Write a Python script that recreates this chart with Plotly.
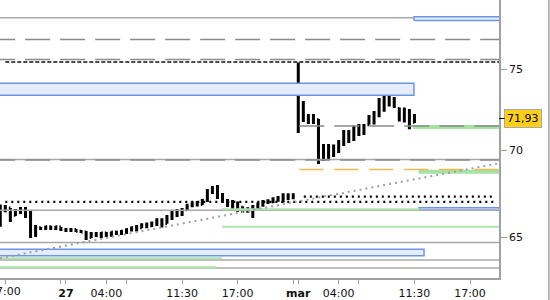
import numpy as np
import plotly.graph_objects as go

# ---- 30-minute bars (trading-slot index; 0 = 17:00 on the 26th) ----
bar_slot = list(range(-1, 82))
opens = [66.20, 66.50, 66.65, 66.25, 66.50, 66.60, 66.20, 65.30, 65.55, 65.50,
         65.60, 65.50, 65.58, 65.45, 65.40, 65.45, 65.35, 65.30, 65.00, 65.20,
         65.10, 65.25, 65.15, 65.30, 65.25, 65.35, 65.45, 65.55, 65.55, 65.70,
         65.65, 65.80, 65.95, 65.78, 66.15, 66.40, 66.35, 66.55, 66.80, 66.90,
         66.85, 67.10, 67.65, 67.60, 67.30, 67.05, 66.85, 66.60, 66.70, 66.50,
         66.60, 66.70, 66.90, 67.00, 67.05, 67.15, 67.25, 67.35, 67.30, 71.20,
         72.60, 71.90, 71.80, 71.85, 69.60, 69.80, 69.70, 70.10, 70.40, 71.00,
         70.80, 71.20, 71.40, 71.55, 72.00, 72.20, 72.90, 73.10, 72.90, 72.55,
         71.95, 72.20, 71.70]
highs = [66.85, 66.83, 66.66, 66.60, 66.71, 66.71, 66.54, 65.70, 65.59, 65.65,
         65.65, 65.65, 65.59, 65.53, 65.53, 65.48, 65.42, 65.36, 65.31, 65.31,
         65.31, 65.31, 65.33, 65.38, 65.42, 65.51, 65.61, 65.70, 65.79, 65.83,
         65.89, 66.07, 66.07, 66.26, 66.48, 66.60, 66.66, 66.89, 67.01, 67.05,
         67.17, 67.74, 67.91, 67.97, 67.51, 67.17, 67.11, 67.02, 66.74, 66.69,
         66.83, 66.97, 67.11, 67.15, 67.26, 67.34, 67.50, 67.50, 67.50, 75.44,
         73.01, 72.21, 72.21, 71.90, 70.39, 70.39, 70.36, 70.63, 71.23, 71.23,
         71.48, 71.60, 71.60, 72.15, 72.39, 73.19, 73.44, 73.50, 73.25, 72.61,
         72.61, 72.51, 72.21]
lows = [65.60, 66.42, 65.87, 66.20, 66.31, 66.09, 64.97, 65.03, 65.42, 65.42,
        65.42, 65.42, 65.36, 65.31, 65.31, 65.31, 65.25, 64.86, 64.97, 65.03,
        64.97, 65.03, 65.05, 65.14, 65.14, 65.20, 65.33, 65.33, 65.51, 65.51,
        65.59, 65.64, 65.56, 65.76, 65.98, 66.15, 66.20, 66.48, 66.69, 66.74,
        66.83, 67.00, 67.45, 67.17, 66.94, 66.71, 66.48, 66.44, 66.39, 66.39,
        66.09, 66.58, 66.73, 66.88, 66.92, 67.01, 66.96, 67.11, 67.15, 71.05,
        71.72, 71.60, 71.60, 69.20, 69.37, 69.49, 69.61, 69.85, 70.27, 70.45,
        70.57, 70.87, 70.93, 71.54, 71.57, 72.00, 72.35, 72.66, 72.58, 71.74,
        71.68, 71.28, 71.65]
closes = [66.50, 66.70, 66.00, 66.50, 66.60, 66.20, 65.30, 65.55, 65.50, 65.60,
          65.50, 65.60, 65.45, 65.40, 65.45, 65.35, 65.30, 65.00, 65.20, 65.10,
          65.25, 65.15, 65.30, 65.25, 65.35, 65.45, 65.55, 65.50, 65.70, 65.65,
          65.80, 65.95, 65.75, 66.15, 66.40, 66.35, 66.55, 66.80, 66.90, 66.85,
          67.10, 67.65, 67.60, 67.30, 67.05, 66.85, 66.60, 66.90, 66.50, 66.60,
          66.70, 66.90, 67.00, 67.05, 67.15, 67.25, 67.35, 67.30, 67.40, 72.60,
          71.90, 71.80, 71.85, 69.60, 69.80, 69.70, 70.10, 70.40, 71.00, 70.80,
          71.20, 71.40, 71.30, 72.00, 72.20, 72.90, 73.10, 72.90, 72.70, 71.95,
          72.20, 71.60, 71.93]

# ---- axis ticks ----
tick_slots = [0, 11, 12, 20, 24, 35, 46, 57, 58, 66, 70, 81, 92]
tick_labels = ["", "", "<b>27</b>", "04:00", "", "11:30", "17:00", "",
               "<b>mar</b>", "04:00", "", "11:30", "17:00"]
edge_label_slot = 0
edge_label = "17:00"
price_ticks = [65, 70, 75]

# ---- horizontal levels: price, start slot, end slot ----
grey_solid_price = [78.37, 69.46, 66.52, 64.73, 63.77, 63.33]
grey_solid_from = [-3, -3, -3, -3, -3, -3]
grey_solid_to = [80.9, 100, 100, 100, 100, 100]

grey_dash_price = [76.93, 75.64, 69.43, 71.47]
grey_dash_from = [-3, -3, -3, 58.2]
grey_dash_to = [100, 100, 100, 100]

black_dash_price = [75.47]
black_dash_from = [0]

orange_dash_price = [68.88]
orange_dash_from = [58.2]

black_dot_price = [67.0, 67.3]
black_dot_from = [0, 59.1]
black_dot_to = [96.9, 96.9]

green_thin_price = [66.58, 65.60, 63.86, 63.38]
green_thin_from = [42.9, 42.9, -3, -3]
green_thin_to = [82.0, 100, 42.9, 41.9]

green_band_price = [71.41, 68.74]
green_band_from = [80.7, 81.8]

# zones: low, high, start slot, end slot
zone_low = [73.36, 78.19, 66.53, 64.00]
zone_high = [74.12, 78.43, 66.67, 64.35]
zone_from = [-3, 80.9, 81.9, -3]
zone_to = [80.9, 100, 100, 82.9]

trend_slot = [-1.05, 97.74]
trend_price = [63.87, 69.24]

last_price = closes[-1]

X_MIN, X_MAX = -1.05, 97.74
Y_MIN, Y_MAX = 62.80, 79.56

fig = go.Figure()


def hline(price, x0, x1, color, width, dash="solid"):
    fig.add_trace(go.Scatter(x=[x0, x1], y=[price, price], mode="lines",
                             line=dict(color=color, width=width, dash=dash),
                             hoverinfo="skip", showlegend=False))


for lo, hi, a, b in zip(zone_low, zone_high, zone_from, zone_to):
    fig.add_trace(go.Scatter(x=[a, b, b, a, a], y=[lo, lo, hi, hi, lo],
                             mode="lines", fill="toself", fillcolor="#e4ecfe",
                             line=dict(color="#6b96e8", width=1.5),
                             hoverinfo="skip", showlegend=False))

for p, a, b in zip(grey_solid_price, grey_solid_from, grey_solid_to):
    hline(p, a, b, "#a8a8a8", 1.5)

for p, a in zip(green_band_price, green_band_from):
    hline(p, a, 100, "#a3e4a3", 4)

for p, a, b in zip(green_thin_price, green_thin_from, green_thin_to):
    hline(p, a, b, "#ade6ad", 2)

for p, a, b in zip(grey_dash_price, grey_dash_from, grey_dash_to):
    hline(p, a, b, "#8a8a8a", 1.5, "25px,10px")

for p, a in zip(orange_dash_price, orange_dash_from):
    hline(p, a, 100, "#f5b84e", 1.5, "24px,11px")

for p, a in zip(black_dash_price, black_dash_from):
    hline(p, a, 100, "#111111", 1.5, "4px,2px")

for p, a, b in zip(black_dot_price, black_dot_from, black_dot_to):
    hline(p, a, b, "#000000", 2.4, "2px,4px")

fig.add_trace(go.Scatter(x=trend_slot, y=trend_price, mode="lines",
                         line=dict(color="#a0a0a0", width=2, dash="2px,4px"),
                         hoverinfo="skip", showlegend=False))

fig.add_trace(go.Ohlc(x=bar_slot, open=opens, high=highs, low=lows, close=closes,
                      increasing=dict(line=dict(color="#000000", width=3)),
                      decreasing=dict(line=dict(color="#000000", width=3)),
                      tickwidth=0.3, showlegend=False, hoverinfo="skip"))

fig.update_layout(
    width=550, height=300,
    margin=dict(l=0, r=51, t=0, b=22, autoexpand=False),
    paper_bgcolor="white", plot_bgcolor="white",
    font=dict(family="DejaVu Sans", size=11, color="#111111"),
    showlegend=False,
    xaxis=dict(range=[X_MIN, X_MAX], rangeslider=dict(visible=False),
               tickmode="array", tickvals=tick_slots, ticktext=tick_labels,
               ticks="outside", ticklen=4, tickcolor="#a0a0a0",
               showline=True, linecolor="#a0a0a0", linewidth=1.5,
               showgrid=False, zeroline=False),
    yaxis=dict(type="log", side="right",
               range=[np.log10(Y_MIN), np.log10(Y_MAX)],
               tickmode="array", tickvals=price_ticks,
               ticktext=[str(v) for v in price_ticks],
               ticks="outside", ticklen=6, tickcolor="#a0a0a0",
               showline=True, linecolor="#a0a0a0", linewidth=1.5,
               showgrid=False, zeroline=False),
)

fig.add_annotation(xref="x", yref="paper", x=edge_label_slot, y=0,
                   yshift=-5, yanchor="top", xanchor="center",
                   text=edge_label, showarrow=False,
                   font=dict(family="DejaVu Sans", size=11, color="#111111"))

fig.add_annotation(xref="paper", yref="y", x=1.0, y=np.log10(last_price),
                   text=f"{last_price:.2f}".replace(".", ","),
                   showarrow=True, ax=24, ay=0, arrowhead=0, arrowwidth=1,
                   arrowcolor="#000000", bgcolor="#fdd017",
                   bordercolor="#a8a8a8", borderwidth=1, borderpad=2,
                   font=dict(family="DejaVu Sans", size=11, color="#000000"))

fig.add_shape(type="line", xref="paper", yref="paper", x0=1.1, x1=1.1,
              y0=-0.1, y1=1.0, line=dict(color="#a0a0a0", width=1.5))

fig.write_html("out.html")
